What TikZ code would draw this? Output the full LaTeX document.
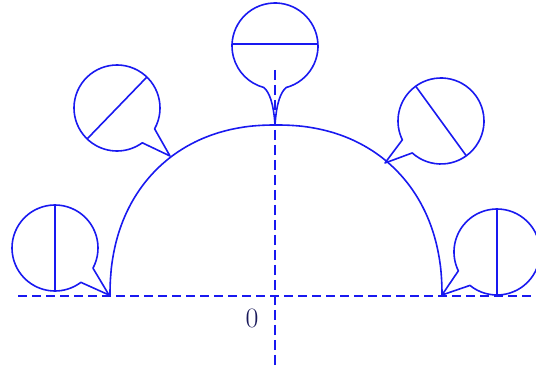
\documentclass[tikz,border=0pt]{standalone}
\usetikzlibrary{calc}
\definecolor{mainblue}{RGB}{25,25,240}
\definecolor{labelnavy}{RGB}{25,25,90}
\tikzset{
  curve/.style={draw=mainblue, line width=1.6pt, line join=round},
  axisline/.style={draw=mainblue, line width=2pt, dash pattern=on 9pt off 5pt},
  vaxisline/.style={draw=mainblue, line width=2.6pt, dash pattern=on 10pt off 5pt},
  chord/.style={draw=mainblue, line width=1.6pt},
}
\begin{document}
\begin{tikzpicture}[x=1pt,y=1pt]
\useasboundingbox (0,0) rectangle (536,372);
% axes
\coordinate (hl) at (18,76);
\coordinate (hr) at (536,76);
\coordinate (vt) at (275,302);
\coordinate (vb) at (275,4);
\draw[axisline] (hl) -- (hr);
\draw[vaxisline] (vt) -- (vb);
\node[text=labelnavy, font=\fontsize{28}{28}\selectfont, inner sep=0pt] (zero) at (252,54) {0};
% arch (superellipse)
\draw[curve] plot[smooth, domain=0.001:179.999, samples=121, variable=\t]
  ({276 + 166*sign(cos(\t))*pow(abs(cos(\t))+0.000001,0.909)},
   {76 + 171*pow(abs(sin(\t))+0.000001,0.909)});
% bubble centres and tips
\coordinate (c1) at (55,124);  \coordinate (t1) at (109,77);
\coordinate (c2) at (117,264); \coordinate (t2) at (170,216);
\coordinate (c3) at (275,326); \coordinate (t3) at (275,247);
\coordinate (c4) at (441,251); \coordinate (t4) at (385,209);
\coordinate (c5) at (497,120); \coordinate (t5) at (442,77);
% bubble 1
\draw[curve] ($(c1)+(-28:43pt)$) arc[start angle=-28, end angle=307, radius=43pt] -- (t1) -- cycle;
\draw[chord] ($(c1)+(90:43pt)$) -- ($(c1)+(270:43pt)$);
% bubble 2
\draw[curve] ($(c2)+(-29:43pt)$) arc[start angle=-29, end angle=306, radius=43pt] -- (t2) -- cycle;
\draw[chord] ($(c2)+(46:43pt)$) -- ($(c2)+(226:43pt)$);
% bubble 3
\draw[curve] ($(c3)+(-75:43pt)$) arc[start angle=-75, end angle=255, radius=43pt]
  .. controls ($(c3)+(-6,-46)$) and ($(c3)+(-1.5,-56)$) .. (t3)
  .. controls ($(c3)+(1.5,-56)$) and ($(c3)+(6,-46)$) .. ($(c3)+(-75:43pt)$);
\draw[chord] ($(c3)+(-43,2)$) -- ($(c3)+(43,2)$);
% bubble 4
\draw[curve] ($(c4)+(-132:43pt)$) arc[start angle=-132, end angle=206, radius=43pt] -- (t4) -- cycle;
\draw[chord] ($(c4)+(126:43pt)$) -- ($(c4)+(-54:43pt)$);
% bubble 5
\draw[curve] ($(c5)+(-129:43pt)$) arc[start angle=-129, end angle=206, radius=43pt] -- (t5) -- cycle;
\draw[chord] ($(c5)+(90:43pt)$) -- ($(c5)+(270:43pt)$);
\end{tikzpicture}
\end{document}
